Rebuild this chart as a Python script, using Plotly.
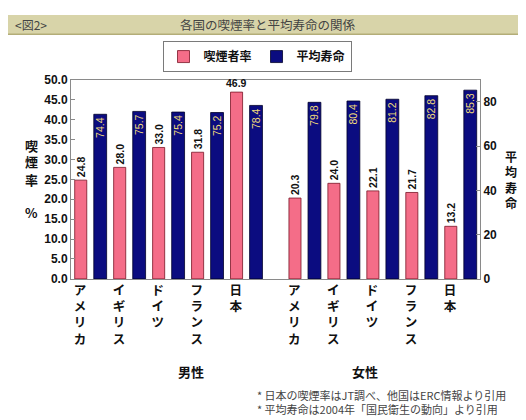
import plotly.graph_objects as go

# data ---------------------------------------------------------------------
countries = ["アメリカ", "イギリス", "ドイツ", "フランス", "日本"]
men_smoking = [24.8, 28.0, 33.0, 31.8, 46.9]
men_life = [74.4, 75.7, 75.4, 75.2, 78.4]
women_smoking = [20.3, 24.0, 22.1, 21.7, 13.2]
women_life = [79.8, 80.4, 81.2, 82.8, 85.3]

# group positions: men 0..4, half-slot gap, women 5.5..9.5
men_x = [0, 1, 2, 3, 4]
women_x = [5.5, 6.5, 7.5, 8.5, 9.5]

x_all = men_x + women_x
smoking = men_smoking + women_smoking
life = men_life + women_life

JP = "Noto Sans CJK JP"
PINK = "#f46d88"
NAVY = "#0b0c80"

# the tallest smoking bar gets a horizontal label, the rest are rotated
top_i = smoking.index(max(smoking))
smoke_text = ["%.1f" % v if i != top_i else "" for i, v in enumerate(smoking)]

fig = go.Figure()
fig.add_trace(
    go.Bar(
        name="喫煙者率",
        x=x_all,
        y=smoking,
        width=0.31,
        offset=-0.405,
        marker=dict(color=PINK, line=dict(color="#7a1526", width=0.8)),
        text=smoke_text,
        textposition="outside",
        textangle=-90,
        constraintext="none",
        cliponaxis=False,
        textfont=dict(family="Liberation Sans", size=10.5, color="#111", weight="bold"),
    )
)
fig.add_trace(
    go.Bar(
        name="平均寿命",
        x=x_all,
        y=life,
        yaxis="y2",
        width=0.33,
        offset=0.085,
        marker=dict(color=NAVY, line=dict(color="#00002a", width=0.8)),
        text=["%.1f" % v for v in life],
        textposition="inside",
        insidetextanchor="end",
        textangle=-90,
        constraintext="none",
        textfont=dict(family="Liberation Sans", size=10.5, color="#f2dc7a"),
    )
)

fig.add_annotation(
    x=x_all[top_i] - 0.25, y=smoking[top_i], xref="x", yref="y",
    text="%.1f" % smoking[top_i], showarrow=False, yanchor="bottom", yshift=1,
    font=dict(family="Liberation Sans", size=10.5, color="#111", weight="bold"),
)

tick_text = ["<br>".join(c) for c in countries]

fig.update_layout(
    width=526,
    height=420,
    margin=dict(l=0, r=0, t=0, b=0),
    paper_bgcolor="white",
    plot_bgcolor="white",
    barmode="overlay",
    font=dict(family=JP, color="#111"),
    xaxis=dict(
        domain=[63 / 526, 472 / 526],
        range=[-0.5, 10],
        tickvals=[v - 0.27 for v in x_all],
        ticktext=tick_text * 2,
        tickfont=dict(family=JP, size=12.5, weight="bold", color="#111"),
        showline=True, linecolor="#8a8a8a", linewidth=1, mirror=True,
        showgrid=False, zeroline=False, ticks="",
    ),
    yaxis=dict(
        domain=[1 - 273 / 420, 1 - 67 / 420],
        range=[0, 50],
        dtick=5,
        tickformat=".1f",
        tickfont=dict(family="Liberation Sans", size=12, weight="bold", color="#111"),
        showline=True, linecolor="#8a8a8a", linewidth=1,
        ticks="inside", ticklen=4, tickcolor="#8a8a8a",
        showgrid=False, zeroline=False,
    ),
    yaxis2=dict(
        overlaying="y",
        side="right",
        range=[0, 90],
        dtick=20,
        tickfont=dict(family="Liberation Sans", size=12, weight="bold", color="#111"),
        showline=True, linecolor="#8a8a8a", linewidth=1,
        ticks="inside", ticklen=4, tickcolor="#8a8a8a",
        showgrid=False, zeroline=False,
    ),
    legend=dict(
        orientation="h",
        x=249 / 526, xanchor="center",
        y=1 - 43 / 420, yanchor="middle",
        bordercolor="#7a7a7a", borderwidth=1,
        bgcolor="white",
        font=dict(family=JP, size=12, weight="bold", color="#111"),
        itemwidth=30,
        tracegroupgap=0,
    ),
    showlegend=True,
)

# title banner
fig.add_shape(
    type="rect", xref="paper", yref="paper",
    x0=0, x1=1, y0=1 - 20 / 420, y1=1,
    fillcolor="#d8d4a9", line=dict(width=0), layer="below",
)
fig.add_shape(
    type="line", xref="paper", yref="paper",
    x0=0, x1=1, y0=1 - 20 / 420, y1=1 - 20 / 420,
    line=dict(color="#b3ad78", width=1.5),
)
fig.add_annotation(
    x=5 / 526, y=1 - 10 / 420, xref="paper", yref="paper",
    text="<図2>", showarrow=False, xanchor="left", yanchor="middle",
    font=dict(family=JP, size=12, color="#444"),
)
fig.add_annotation(
    x=260 / 526, y=1 - 10 / 420, xref="paper", yref="paper",
    text="各国の喫煙率と平均寿命の関係", showarrow=False, yanchor="middle",
    font=dict(family=JP, size=12.5, color="#444"),
)

# axis titles, one character per row (pixel rows)
for ch, py in zip("喫煙率%", (135, 152, 170, 204)):
    fig.add_annotation(
        x=15 / 526, y=1 - py / 420, xref="paper", yref="paper",
        text=ch, showarrow=False, yanchor="middle",
        font=dict(family=JP, size=13, weight="bold", color="#111"),
    )
for ch, py in zip("平均寿命", (146, 162, 178, 194)):
    fig.add_annotation(
        x=511 / 526, y=1 - py / 420, xref="paper", yref="paper",
        text=ch, showarrow=False, yanchor="middle",
        font=dict(family=JP, size=12, weight="bold", color="#111"),
    )

# group labels
for label, px_x in (("男性", 168), ("女性", 372)):
    fig.add_annotation(
        x=px_x / 526, y=1 - 369 / 420, xref="paper", yref="paper",
        text=label, showarrow=False, yanchor="middle",
        font=dict(family=JP, size=13, weight="bold", color="#111"),
    )

# footnotes
notes = [
    "* 日本の喫煙率はJT調べ、他国はERC情報より引用",
    "* 平均寿命は2004年「国民衛生の動向」より引用",
]
fig.add_annotation(
    x=247 / 526, y=1 - 400 / 420, xref="paper", yref="paper",
    text="<br>".join(notes), showarrow=False, xanchor="left", yanchor="middle",
    align="left",
    font=dict(family=JP, size=11, color="#444"),
)

fig.write_html("out.html")
